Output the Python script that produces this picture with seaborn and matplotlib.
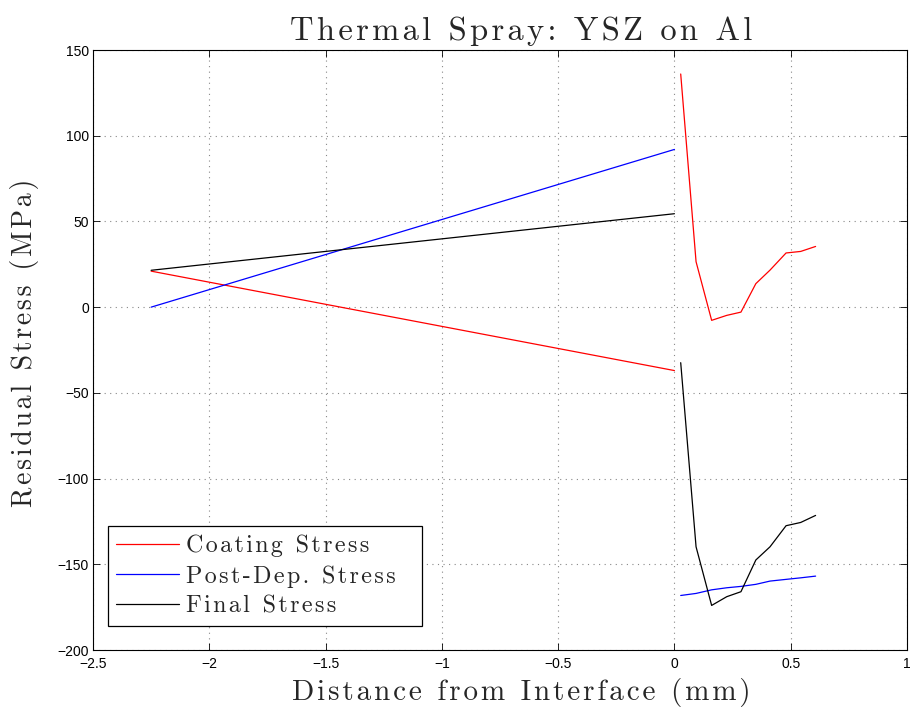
import numpy as np
import pandas as pd
import matplotlib
matplotlib.use("Agg")
import matplotlib.pyplot as plt
import seaborn as sns

# Substrate side (linear profile) and coating side (measured layers)
substrate_x = [-2.25, 0.0]
coating_x = [0.027, 0.093, 0.160, 0.225, 0.286, 0.350, 0.411, 0.480, 0.543, 0.607]

coating_stress_sub = [21.0, -37.0]
post_dep_stress_sub = [0.0, 92.0]
final_stress_sub = [21.5, 54.5]

coating_stress_coat = [136.0, 26.5, -7.7, -4.8, -2.9, 13.7, 21.6, 31.6, 32.5, 35.4]
post_dep_stress_coat = [-168.2, -167.0, -164.9, -163.7, -162.9, -161.7, -159.8, -158.8, -157.9, -156.9]
final_stress_coat = [-32.4, -139.8, -174.0, -168.9, -166.0, -147.5, -139.8, -127.5, -125.6, -121.5]

series_names = ["Coating Stress", "Post-Dep. Stress", "Final Stress"]
series_colors = ["#ff0000", "#0000ff", "#000000"]

x_ticks = [-2.5, -2, -1.5, -1, -0.5, 0, 0.5, 1]
y_ticks = [-200, -150, -100, -50, 0, 50, 100, 150]

rows = []
for name, sub, coat in zip(series_names,
                           [coating_stress_sub, post_dep_stress_sub, final_stress_sub],
                           [coating_stress_coat, post_dep_stress_coat, final_stress_coat]):
    for x, y in zip(substrate_x, sub):
        rows.append({"x": x, "stress": y, "series": name, "segment": "substrate"})
    for x, y in zip(coating_x, coat):
        rows.append({"x": x, "stress": y, "series": name, "segment": "coating"})
df = pd.DataFrame(rows)

sns.set_style("white")
serif = ["cmr10", "DejaVu Serif"]


def tracked(s):
    # open up the letter spacing with hair spaces
    return "\u200a".join(s)


fig = plt.figure(figsize=(9.11, 7.16), dpi=100)
ax = fig.add_axes([93 / 911, 1 - 650 / 716, 814 / 911, 600 / 716])

sns.lineplot(data=df, x="x", y="stress", hue="series", units="segment",
             estimator=None, sort=False, palette=dict(zip(series_names, series_colors)),
             hue_order=series_names, linewidth=0.9, ax=ax)

ax.set_xlim(-2.5, 1)
ax.set_ylim(-200, 150)
ax.set_xticks(x_ticks)
ax.set_yticks(y_ticks)
ax.set_xticklabels([f"{t:g}".replace("-", "\u2212") for t in x_ticks])
ax.set_yticklabels([f"{t:g}".replace("-", "\u2212") for t in y_ticks])
for lab in ax.get_xticklabels() + ax.get_yticklabels():
    lab.set_fontfamily("Liberation Sans")
    lab.set_fontsize(10)

ax.grid(True, color="#888888", linestyle=(0, (1, 4)), linewidth=0.8)
ax.tick_params(direction="in", length=5, width=0.6, top=True, right=True,
               bottom=True, left=True, colors="black")
ax.tick_params(axis="x", pad=5)
ax.tick_params(axis="y", pad=3)
for sp in ax.spines.values():
    sp.set_color("black")
    sp.set_linewidth(0.8)

ax.set_title(tracked("Thermal Spray: YSZ on Al"), fontfamily=serif, fontsize=23.5,
             x=0.526, pad=7)
ax.set_xlabel(tracked("Distance from Interface (mm)"), fontfamily=serif, fontsize=21)
ax.xaxis.set_label_coords(0.526, -0.047, transform=ax.transAxes)
ax.xaxis.label.set_va("top")
ax.set_ylabel(tracked("Residual Stress (MPa)"), fontfamily=serif, fontsize=20)
ax.yaxis.set_label_coords(-0.066, 0.5125, transform=ax.transAxes)

leg = ax.legend(labels=[tracked(n) for n in series_names],
                handles=ax.get_legend_handles_labels()[0],
                loc="lower left", bbox_to_anchor=(0.018, 0.04, 0.386, 0.1),
                mode="expand", frameon=True,
                fancybox=False, edgecolor="black", framealpha=1,
                prop={"family": serif, "size": 17.3}, handlelength=2.6,
                handletextpad=0.3, borderpad=0.35, labelspacing=0.33,
                borderaxespad=0)
leg.get_frame().set_linewidth(0.9)
for h in leg.get_lines():
    h.set_linewidth(0.9)

fig.savefig("out.png", dpi=100)
